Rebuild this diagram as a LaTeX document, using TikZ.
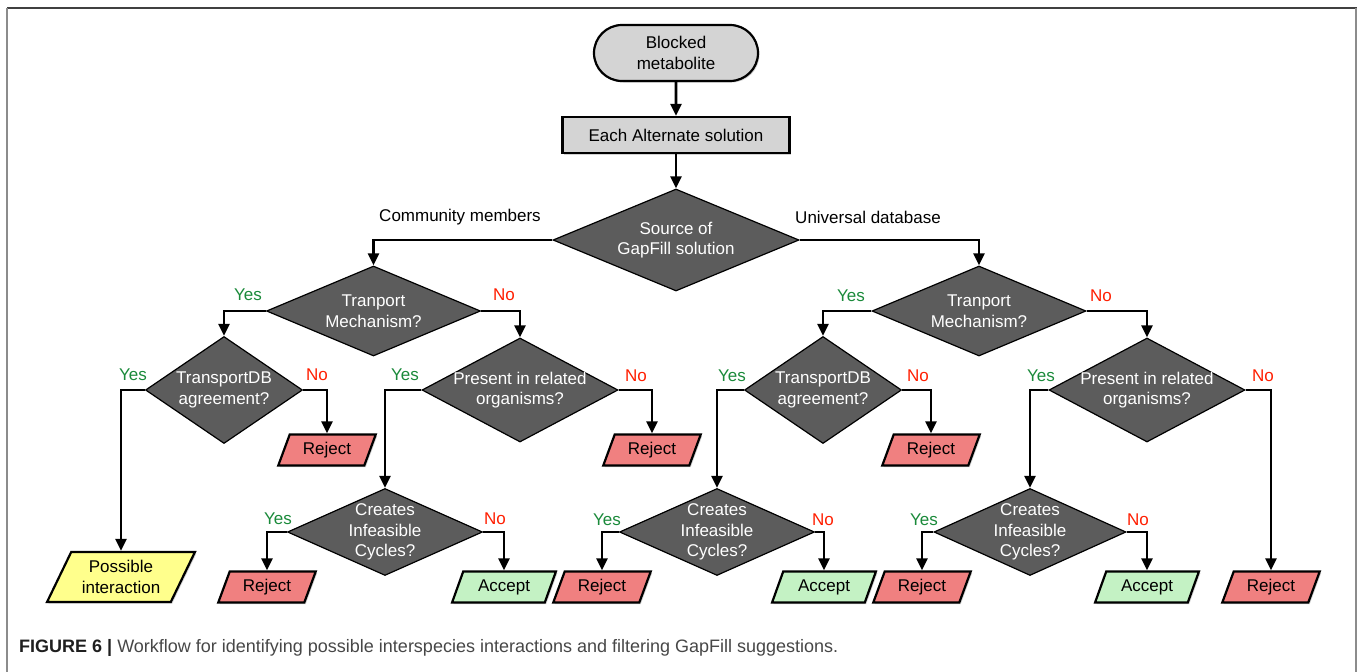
\documentclass[tikz,border=0pt]{standalone}
\usepackage{fontspec}
\setmainfont{Liberation Sans}
\usetikzlibrary{shapes.geometric,shapes.misc,arrows.meta,shadows}
\definecolor{dgray}{RGB}{92,92,92}
\definecolor{lgray}{RGB}{212,212,212}
\definecolor{rejc}{RGB}{240,128,128}
\definecolor{accc}{RGB}{196,242,196}
\definecolor{posc}{RGB}{255,255,140}
\definecolor{yesc}{RGB}{26,138,58}
\definecolor{noc}{RGB}{255,30,0}
\tikzset{
 base/.style={font=\fontsize{17}{20.5}\selectfont, align=center, inner sep=0pt},
 shad/.style={drop shadow={shadow xshift=1.5pt, shadow yshift=-1.5pt, opacity=0.35}},
 term/.style={base, rounded rectangle, draw=black, line width=2.2pt, fill=lgray, minimum width=164pt, minimum height=56pt, shad},
 proc/.style={base, rectangle, draw=black, line width=2.2pt, fill=lgray, minimum width=227pt, minimum height=36pt, shad},
 dec/.style={diamond, draw=black, line width=1.2pt, fill=dgray, inner sep=0pt},
 dtext/.style={base, text=white},
 para/.style={base, trapezium, trapezium left angle=65, trapezium right angle=115, trapezium stretches=true, draw=black, line width=2.2pt, minimum height=31pt, minimum width=98pt, shad},
 rej/.style={para, fill=rejc},
 acc/.style={para, fill=accc, minimum width=104pt},
 posb/.style={para, fill=posc, trapezium left angle=60, trapezium right angle=120, minimum width=148pt, minimum height=50pt},
 yes/.style={base, text=yesc},
 no/.style={base, text=noc},
 conn/.style={line width=2.6pt, -{Triangle[length=12pt,width=11pt]}},
}
\begin{document}
\begin{tikzpicture}[x=1pt,y=-1pt]
\useasboundingbox (0,0) rectangle (1358,672);
\fill[white] (0,0) rectangle (1358,672);
% frame
\draw[line width=1.5pt, black!75] (7,8) -- (1357,8);
\draw[line width=1.5pt, black!45] (7,8) -- (7,672);
\draw[line width=1.5pt, black!45] (1356,8) -- (1356,672);

% top
\node[term] (start) at (676,53) {Blocked\\metabolite};
\node[proc] (proc) at (676,135) {Each Alternate solution};
\node[dec, minimum width=246pt, minimum height=102pt] (d0) at (676,240) {};
\node[dtext] (d0t) at (d0) {Source of\\GapFill solution};
\node[base] (cm) at (460,217) {Community members};
\node[base] (ud) at (868,217) {Universal database};

% level 1
\node[dec, minimum width=214pt, minimum height=90pt] (dL1) at (373.5,311) {};
\node[dtext] (dL1t) at (dL1) {Tranport\\Mechanism?};
\node[dec, minimum width=214pt, minimum height=90pt] (dR1) at (979,311) {};
\node[dtext] (dR1t) at (dR1) {Tranport\\Mechanism?};

% level 2
\node[dec, minimum width=157pt, minimum height=107pt] (dL2) at (224,390) {};
\node[dtext] (dL2t) at (dL2) {TransportDB\\agreement?};
\node[dec, minimum width=196pt, minimum height=104pt] (dL3) at (520,390) {};
\node[dtext] (dL3t) at (dL3) {Present in related\\organisms?};
\node[dec, minimum width=157pt, minimum height=107pt] (dR2) at (823,390) {};
\node[dtext] (dR2t) at (dR2) {TransportDB\\agreement?};
\node[dec, minimum width=196pt, minimum height=104pt] (dR3) at (1147,390) {};
\node[dtext] (dR3t) at (dR3) {Present in related\\organisms?};

% rejects mid
\node[rej] (rA) at (327,450) {Reject};
\node[rej] (rB) at (652,450) {Reject};
\node[rej] (rC) at (931,450) {Reject};

% level 3
\node[dec, minimum width=195pt, minimum height=87pt] (cL) at (385,532) {};
\node[dtext] (cLt) at (cL) {Creates\\Infeasible\\Cycles?};
\node[dec, minimum width=195pt, minimum height=87pt] (cM) at (717,532) {};
\node[dtext] (cMt) at (cM) {Creates\\Infeasible\\Cycles?};
\node[dec, minimum width=192pt, minimum height=87pt] (cR) at (1030,532) {};
\node[dtext] (cRt) at (cR) {Creates\\Infeasible\\Cycles?};

% bottom
\node[posb] (pos) at (121,577) {Possible\\interaction};
\node[rej] (rD) at (267,587) {Reject};
\node[acc] (aD) at (504,587) {Accept};
\node[rej] (rE) at (602,587) {Reject};
\node[acc] (aE) at (824,587) {Accept};
\node[rej] (rF) at (922,587) {Reject};
\node[acc] (aF) at (1147,587) {Accept};
\node[rej] (rG) at (1271,587) {Reject};

% connectors
\draw[conn] (start) -- (proc);
\draw[conn] (proc) -- (d0);
\draw[conn] (d0.west) -| (dL1.north);
\draw[conn] (d0.east) -| (dR1.north);
\draw[conn] (dL1.west) -| (dL2.north);
\draw[conn] (dL1.east) -| (dL3.north);
\draw[conn] (dR1.west) -| (dR2.north);
\draw[conn] (dR1.east) -| (dR3.north);
\draw[conn] (dL2.west) -| (pos.north);
\draw[conn] (dL2.east) -| (rA.north);
\draw[conn] (dL3.west) -| (cL.north);
\draw[conn] (dL3.east) -| (rB.north);
\draw[conn] (dR2.west) -| (cM.north);
\draw[conn] (dR2.east) -| (rC.north);
\draw[conn] (dR3.west) -| (cR.north);
\draw[conn] (dR3.east) -| (rG.north);
\draw[conn] (cL.west) -| (rD.north);
\draw[conn] (cL.east) -| (aD.north);
\draw[conn] (cM.west) -| (rE.north);
\draw[conn] (cM.east) -| (aE.north);
\draw[conn] (cR.west) -| (rF.north);
\draw[conn] (cR.east) -| (aF.north);

% yes/no labels
\node[yes] (y1) at (248,295) {Yes};
\node[no]  (n1) at (504,295) {No};
\node[yes] (y2) at (851,296) {Yes};
\node[no]  (n2) at (1101,296) {No};
\node[yes] (y3) at (133,375) {Yes};
\node[no]  (n3) at (317,375) {No};
\node[yes] (y4) at (405,375) {Yes};
\node[no]  (n4) at (636,376) {No};
\node[yes] (y5) at (732,376) {Yes};
\node[no]  (n5) at (918,376) {No};
\node[yes] (y6) at (1041,376) {Yes};
\node[no]  (n6) at (1263,376) {No};
\node[yes] (y7) at (278,519) {Yes};
\node[no]  (n7) at (495,519) {No};
\node[yes] (y8) at (607,520) {Yes};
\node[no]  (n8) at (823,520) {No};
\node[yes] (y9) at (924,520) {Yes};
\node[no]  (n9) at (1138,520) {No};

% caption
\node[anchor=west, inner sep=0pt, font=\fontsize{18}{22}\selectfont, text=black!72] (cap) at (19,648)
  {\textbf{\color{black!88}FIGURE 6 |} Workflow for identifying possible interspecies interactions and filtering GapFill suggestions.};
\end{tikzpicture}
\end{document}
